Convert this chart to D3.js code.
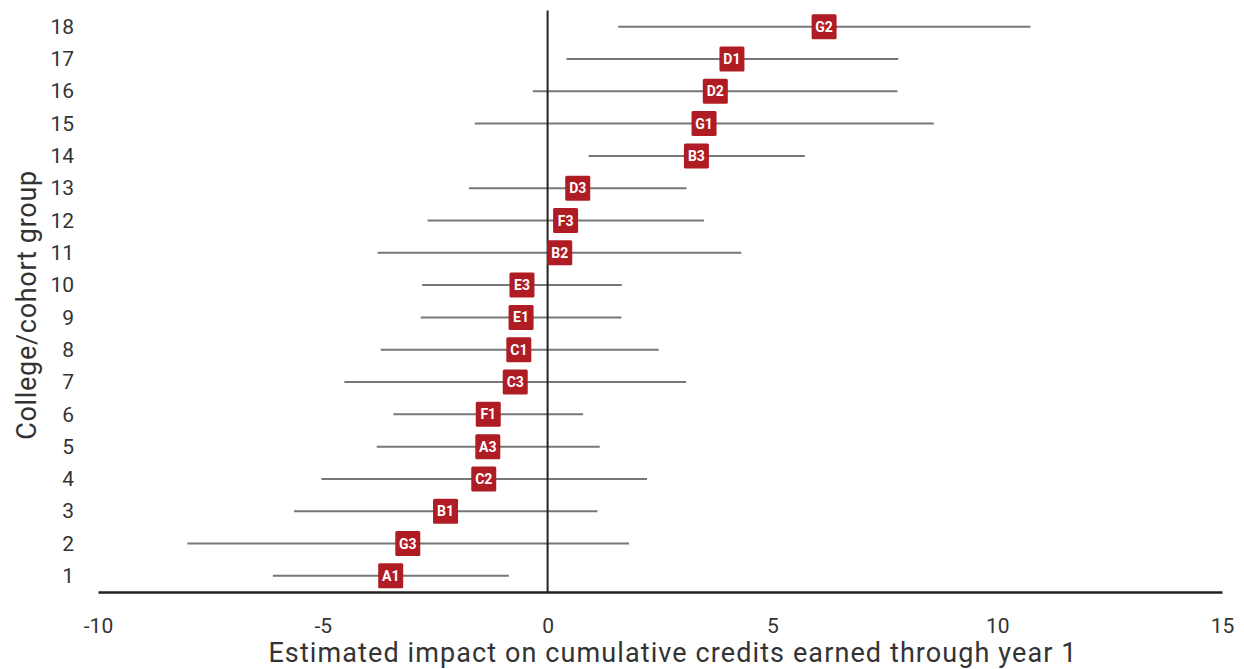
<!DOCTYPE html>
<html>
<head>
<meta charset="utf-8">
<script src="https://cdn.jsdelivr.net/npm/d3@7"></script>
<style>
  body { margin: 0; background: #fff; }
  text { font-family: Roboto, "DejaVu Sans", sans-serif; }
</style>
</head>
<body>
<svg id="chart"></svg>
<script>
const vWidth = 1244
const vHeight = 669

// one row per college/cohort group, bottom (1) to top (18)
const groups = [1, 2, 3, 4, 5, 6, 7, 8, 9, 10, 11, 12, 13, 14, 15, 16, 17, 18]
const labels = ['A1', 'G3', 'B1', 'C2', 'A3', 'F1', 'C3', 'C1', 'E1', 'E3', 'B2', 'F3', 'D3', 'B3', 'G1', 'D2', 'D1', 'G2']
const estimates = [-3.49, -3.11, -2.27, -1.42, -1.33, -1.32, -0.72, -0.64, -0.59, -0.57, 0.27, 0.40, 0.67, 3.31, 3.48, 3.73, 4.10, 6.15]
const lower = [-6.11, -8.01, -5.64, -5.03, -3.80, -3.43, -4.52, -3.71, -2.82, -2.79, -3.78, -2.67, -1.75, 0.91, -1.62, -0.33, 0.42, 1.57]
const upper = [-0.86, 1.81, 1.11, 2.21, 1.16, 0.79, 3.08, 2.47, 1.64, 1.65, 4.31, 3.48, 3.09, 5.72, 8.59, 7.78, 7.80, 10.74]
const xTicks = [-10, -5, 0, 5, 10, 15]

const rows = groups.map((g, i) => ({
  group: g, label: labels[i], est: estimates[i], lo: lower[i], hi: upper[i]
}))

const svg = d3.select('#chart')
  .attr('width', vWidth)
  .attr('height', vHeight)

const x = d3.scaleLinear().domain([-10, 15]).range([98, 1222])
const y = d3.scaleLinear().domain([0.5, 18.5]).range([592, 10.5])

// confidence intervals
svg.append('g')
  .selectAll('line')
  .data(rows)
  .enter()
  .append('line')
  .attr('x1', (d) => x(d.lo))
  .attr('x2', (d) => x(d.hi))
  .attr('y1', (d) => y(d.group))
  .attr('y2', (d) => y(d.group))
  .attr('stroke', '#777')
  .attr('stroke-width', 2)

// zero line
svg.append('line')
  .attr('x1', x(0)).attr('x2', x(0))
  .attr('y1', y(18.5)).attr('y2', y(0.5))
  .attr('stroke', '#222')
  .attr('stroke-width', 2)

// x axis
const xAxis = svg.append('g')
  .attr('transform', 'translate(0,' + y(0.5) + ')')
  .call(d3.axisBottom(x).tickValues(xTicks).tickSize(0).tickPadding(26).tickFormat((d) => String(d)))
xAxis.select('.domain').attr('stroke', '#222').attr('stroke-width', 2.5)
xAxis.selectAll('text')
  .attr('font-size', '21px')
  .attr('fill', '#333')
  .attr('font-family', 'Roboto, sans-serif')

// y axis
const yAxis = svg.append('g')
  .attr('transform', 'translate(' + 74 + ',0)')
  .call(d3.axisLeft(y).tickValues(groups).tickSize(0).tickPadding(0))
yAxis.select('.domain').remove()
yAxis.selectAll('text')
  .attr('font-size', '21px')
  .attr('fill', '#333')
  .attr('font-family', 'Roboto, sans-serif')

// point labels
const pts = svg.append('g')
  .selectAll('g')
  .data(rows)
  .enter()
  .append('g')
  .attr('transform', (d) => 'translate(' + [x(d.est), y(d.group)] + ')')

pts.append('rect')
  .attr('x', -12.5).attr('y', -12.5)
  .attr('width', 25).attr('height', 25)
  .attr('rx', 1.5)
  .attr('fill', '#b01c24')

pts.append('text')
  .text((d) => d.label)
  .attr('text-anchor', 'middle')
  .attr('dy', '0.36em')
  .attr('fill', 'white')
  .attr('font-weight', 'bold')
  .attr('font-size', '14px')

// axis titles
svg.append('text')
  .attr('x', 673)
  .attr('y', 662)
  .attr('text-anchor', 'middle')
  .attr('font-size', '27px')
  .attr('letter-spacing', '1.1px')
  .attr('fill', '#333')
  .text('Estimated impact on cumulative credits earned through year 1')

svg.append('text')
  .attr('transform', 'translate(36,305) rotate(-90)')
  .attr('text-anchor', 'middle')
  .attr('font-size', '27px')
  .attr('letter-spacing', '0.7px')
  .attr('fill', '#333')
  .text('College/cohort group')
</script>
</body>
</html>
